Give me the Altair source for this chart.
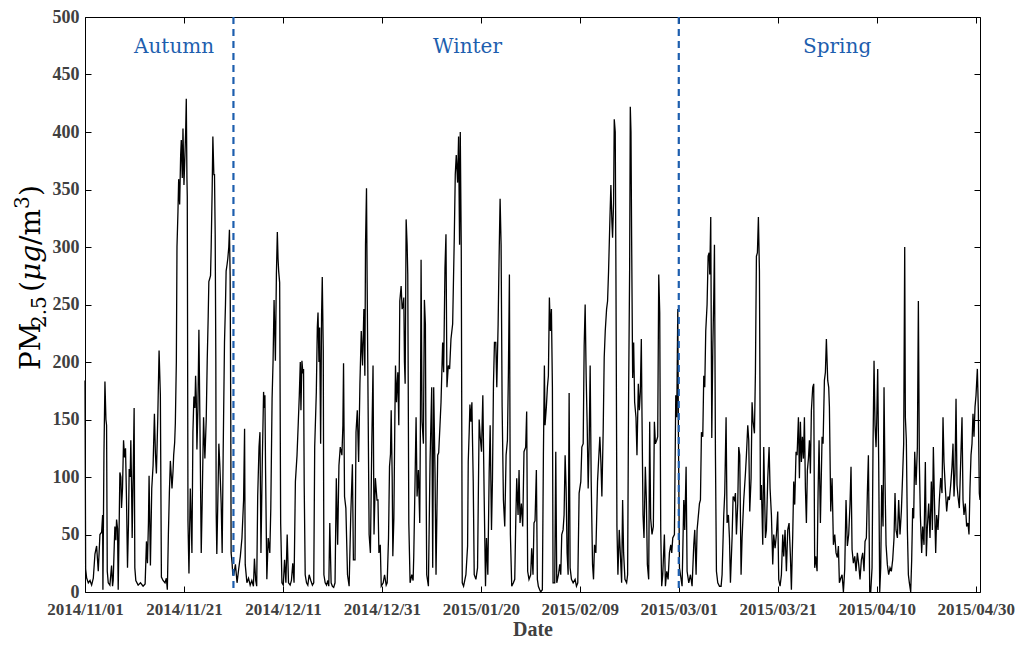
import altair as alt
import pandas as pd

# ---------------- data ----------------
# day offsets from 2014-11-01 00:00 and PM2.5 values (ug/m3)
autumn_day = [0.0, 0.13, 0.34, 0.67, 1.01, 1.34, 1.68, 2.01, 2.35, 2.68, 3.02, 3.36, 3.56, 3.62, 3.83, 4.03, 4.23, 4.36, 4.50, 4.70,
              5.03, 5.37, 5.57, 5.70, 5.91, 6.04, 6.24, 6.38, 6.58, 6.71, 6.91, 7.05, 7.25, 7.38, 7.58, 7.79, 7.99, 8.19, 8.39, 8.59,
              8.79, 8.93, 9.13, 9.26, 9.40, 9.53, 9.73, 9.93, 10.07, 10.27, 10.74, 11.21, 11.74, 12.15, 12.42, 12.62, 12.82, 12.95, 13.22, 13.49,
              13.76, 14.03, 14.23, 14.43, 14.70, 14.97, 15.23, 15.44, 15.77, 16.17, 16.44, 16.64, 16.85, 17.05, 17.25, 17.45, 17.58, 17.79, 17.92, 18.12,
              18.26, 18.46, 18.59, 18.79, 18.93, 19.13, 19.33, 19.46, 19.66, 19.80, 20.0, 20.2, 20.34, 20.47, 20.60, 20.67, 20.81, 21.01, 21.28, 21.48,
              21.61, 21.81, 22.01, 22.21, 22.35, 22.48, 22.62, 22.82, 23.02, 23.22, 23.49, 23.69, 23.96, 24.23, 24.50, 24.70, 24.90, 25.03, 25.17, 25.37,
              25.50, 25.70, 25.84, 26.04, 26.17, 26.31, 26.44, 26.51, 26.64, 26.85, 27.05, 27.25, 27.52, 27.72, 27.92, 28.19, 28.39, 28.52, 28.72, 28.86,
              29.06, 29.19, 29.33, 29.46, 29.53, 29.73, 29.87]
autumn_pm = [184, 20, 12, 8, 10, 6, 12, 33, 40, 18, 50, 52, 67, 2, 120, 183, 150, 145, 18, 8,
             6, 23, 5, 10, 40, 57, 45, 63, 55, 2, 60, 104, 100, 73, 90, 132, 117, 125, 80, 21,
             60, 107, 100, 132, 95, 47, 100, 160, 21, 10, 6, 8, 5, 7, 44, 25, 60, 101, 23, 90,
             110, 155, 120, 103, 150, 210, 171, 13, 10, 8, 12, 2, 50, 86, 114, 100, 90, 105, 119, 130,
             147, 200, 300, 331, 359, 337, 380, 393, 360, 403, 354, 380, 400, 429, 360, 344, 62, 16, 90, 60,
             34, 139, 170, 160, 188, 170, 124, 160, 228, 150, 34, 80, 152, 116, 150, 201, 240, 270, 272, 275,
             300, 350, 396, 363, 363, 311, 200, 70, 33, 80, 129, 110, 77, 34, 120, 217, 250, 279, 285, 290,
             300, 315, 275, 150, 34, 25, 15]

winter_day = [30.07, 30.40, 30.73, 31.06, 31.39, 31.72, 32.05, 32.25, 32.38, 32.72, 33.05, 33.38, 33.71, 34.04, 34.24, 34.50, 34.70, 34.90, 35.17, 35.36,
              35.56, 35.83, 36.09, 36.23, 36.36, 36.49, 36.75, 37.02, 37.35, 37.55, 37.81, 38.01, 38.21, 38.48, 38.68, 38.87, 39.01, 39.14, 39.34, 39.54,
              39.80, 40.07, 40.33, 40.60, 40.86, 41.13, 41.46, 41.72, 41.99, 42.25, 42.52, 42.85, 43.11, 43.31, 43.51, 43.64, 43.84, 44.04, 44.17, 44.30,
              44.50, 44.77, 45.03, 45.30, 45.63, 45.96, 46.23, 46.42, 46.75, 46.95, 47.09, 47.28, 47.42, 47.62, 47.81, 47.95, 48.15, 48.28, 48.54, 48.81,
              49.07, 49.27, 49.47, 49.74, 50.0, 50.26, 50.53, 50.79, 51.06, 51.32, 51.59, 51.92, 52.12, 52.25, 52.45, 52.72, 53.05, 53.38, 53.71, 54.04,
              54.24, 54.57, 54.77, 55.03, 55.30, 55.56, 55.83, 56.09, 56.36, 56.56, 56.69, 56.89, 57.02, 57.22, 57.42, 57.68, 57.95, 58.21, 58.41, 58.68,
              59.01, 59.21, 59.40, 59.67, 59.87,
              60.27, 60.54, 60.87, 61.07, 61.34, 61.54, 61.74, 61.88, 62.08, 62.21, 62.42, 62.62, 62.75, 62.95, 63.09, 63.22, 63.42, 63.62, 63.89, 64.09,
              64.30, 64.43, 64.56, 64.70, 64.90, 65.10, 65.23, 65.44, 65.70, 66.04, 66.31, 66.44, 66.71, 66.91, 67.11, 67.38, 67.65, 67.79, 67.92, 68.12,
              68.39, 68.59, 68.79, 68.93, 69.06, 69.40, 69.73, 70.07, 70.27, 70.47, 70.74, 70.94, 71.28, 71.48, 71.74, 71.95, 72.28, 72.48, 72.75, 72.95,
              73.15, 73.42, 73.69, 73.96, 74.30, 74.63, 74.83, 75.03, 75.30, 75.50, 75.70, 75.84, 76.04, 76.24, 76.51, 76.98, 77.32, 77.45, 77.65, 77.79,
              77.99, 78.19, 78.32, 78.46, 78.66, 79.0, 79.33, 79.66, 79.87, 80.13, 80.40, 80.67, 80.94, 81.14, 81.41, 81.68, 81.88, 82.15, 82.35, 82.55,
              82.75, 83.02, 83.22, 83.49, 83.69, 83.89, 84.09, 84.30, 84.56, 84.83, 85.10, 85.37, 85.57, 85.77, 85.97, 86.24, 86.58, 86.85, 87.05, 87.25,
              87.52, 87.72, 87.92, 88.19, 88.46, 88.72, 89.06, 89.26, 89.46, 89.73,
              90.07, 90.27, 90.54, 90.74, 90.95, 91.22, 91.42, 91.62, 91.89, 92.09, 92.43, 92.64, 92.84, 92.97, 93.24, 93.45, 93.65, 93.85, 94.05, 94.26,
              94.46, 94.59, 94.93, 95.14, 95.34, 95.68, 95.95, 96.15, 96.35, 96.62, 96.82, 97.03, 97.23, 97.43, 97.64, 97.84, 98.04, 98.31, 98.65, 99.05,
              99.32, 99.59, 99.86, 100.2, 100.41, 100.68, 100.88, 101.08, 101.28, 101.49, 101.69, 101.89, 102.09, 102.30, 102.57, 102.77, 102.97, 103.24, 103.58, 103.78,
              104.05, 104.26, 104.46, 104.73, 104.93, 105.14, 105.41, 105.61, 105.81, 106.08, 106.28, 106.49, 106.62, 106.82, 106.96, 107.16, 107.30, 107.50, 107.70, 107.97,
              108.18, 108.45, 108.65, 108.85, 109.12, 109.46, 109.66, 109.86, 110.07, 110.20, 110.34, 110.47, 110.68, 110.88, 111.08, 111.35, 111.55, 111.82, 112.03, 112.23,
              112.43, 112.57, 112.77, 112.97, 113.24, 113.45, 113.65, 113.92, 114.12, 114.32, 114.59, 114.86, 115.07, 115.27, 115.54, 115.74, 115.95, 116.15, 116.35, 116.55,
              116.76, 117.09, 117.30, 117.57, 117.84, 118.11, 118.38, 118.58, 118.78, 119.12, 119.39, 119.59, 119.80, 119.93]
winter_pm = [15, 24, 8, 20, 31, 47, 80, 142, 24, 8, 12, 6, 10, 5, 29, 10, 5, 83, 126, 139,
             34, 113, 174, 160, 171, 106, 11, 47, 34, 73, 168, 201, 254, 201, 276, 313, 290, 279, 269, 60,
             8, 6, 28, 8, 50, 8, 6, 10, 25, 8, 96, 119, 148, 171, 200, 158, 201, 190, 194, 93,
             15, 8, 6, 15, 10, 6, 8, 126, 174, 230, 243, 200, 230, 129, 240, 274, 210, 15, 8, 6,
             10, 5, 60, 8, 5, 4, 8, 99, 41, 110, 126, 119, 145, 199, 83, 73, 15, 5, 67, 111,
             28, 28, 139, 158, 113, 181, 227, 197, 246, 188, 302, 351, 269, 158, 50, 34, 126, 197, 50, 99,
             80, 80, 34, 41, 5,
             8, 15, 6, 8, 47, 109, 120, 158, 100, 31, 64, 150, 197, 165, 180, 191, 145, 253, 266, 246,
             250, 256, 200, 181, 324, 302, 276, 60, 8, 15, 10, 31, 99, 152, 83, 106, 60, 150, 289, 148,
             129, 254, 233, 100, 15, 5, 113, 178, 21, 178, 103, 15, 119, 121, 145, 165, 217, 191, 282, 311,
             178, 197, 194, 220, 233, 308, 363, 380, 356, 396, 302, 400, 299, 8, 5, 15, 40, 113, 140, 163,
             148, 165, 130, 96, 15, 11, 21, 150, 135, 122, 171, 83, 5, 47, 15, 103, 145, 54, 99, 181,
             217, 217, 178, 233, 292, 342, 302, 161, 80, 57, 119, 132, 191, 276, 50, 5, 8, 11, 60, 99,
             67, 106, 60, 77, 57, 122, 126, 157, 18, 11,
             15, 38, 15, 60, 62, 106, 11, 5, 2, 0, 2, 119, 197, 145, 161, 178, 188, 256, 227, 246,
             178, 8, 8, 122, 8, 15, 24, 15, 50, 54, 67, 119, 90, 34, 15, 173, 21, 11, 8, 11,
             5, 8, 86, 96, 126, 129, 214, 250, 188, 145, 90, 129, 197, 96, 24, 11, 41, 34, 96, 113,
             135, 113, 83, 142, 204, 227, 246, 253, 279, 324, 354, 321, 308, 338, 411, 400, 276, 57, 15, 54,
             34, 8, 80, 34, 11, 8, 15, 171, 282, 422, 400, 308, 186, 217, 165, 152, 119, 181, 158, 174,
             220, 152, 67, 47, 109, 80, 24, 11, 148, 64, 50, 57, 148, 129, 132, 135, 276, 243, 54, 5,
             15, 50, 5, 18, 11, 34, 41, 34, 47, 50, 171, 152, 246, 135]

spring_day = [120.14, 120.34, 120.67, 121.01, 121.21, 121.48, 121.68, 122.02, 122.36, 122.69, 123.03, 123.23, 123.50, 123.70, 123.91, 124.18, 124.38, 124.58, 124.85, 125.05,
              125.25, 125.45, 125.72, 125.93, 126.13, 126.26, 126.46, 126.67, 126.87, 127.07, 127.21, 127.41, 127.61, 127.88, 128.22, 128.55, 128.75, 129.09, 129.29, 129.56,
              129.76, 130.03, 130.24, 130.44, 130.77, 130.98, 131.25, 131.45, 131.65, 131.92, 132.12, 132.32, 132.59, 132.79, 133.13, 133.47, 133.67, 133.94, 134.14, 134.34,
              134.61, 134.81, 135.02, 135.29, 135.49, 135.69, 135.89, 136.09, 136.30, 136.50, 136.70, 136.97, 137.17, 137.51, 137.71, 137.98, 138.25, 138.45, 138.72, 138.99,
              139.19, 139.46, 139.73, 140.0, 140.20, 140.47, 140.74, 141.01, 141.21, 141.48, 141.75, 142.02, 142.29, 142.56, 142.76, 143.03, 143.23, 143.43, 143.70, 143.91,
              144.18, 144.38, 144.58, 144.78, 144.98, 145.19, 145.39, 145.59, 145.79, 145.99, 146.20, 146.40, 146.60, 146.80, 147.07, 147.27, 147.47, 147.68, 147.95, 148.15,
              148.35, 148.62, 148.96, 149.16, 149.43, 149.63, 149.83, 150.10, 150.30,
              150.44, 150.71, 150.98, 151.25, 151.52, 151.78, 152.05, 152.26, 152.46, 152.73, 153.0, 153.27, 153.54, 153.80, 154.07, 154.34, 154.61, 154.81, 155.02, 155.29,
              155.56, 155.82, 156.09, 156.36, 156.63, 156.90, 157.17, 157.44, 157.64, 157.91, 158.11, 158.32, 158.59, 158.79, 159.06, 159.26, 159.46, 159.66, 159.87, 160.0,
              160.20, 160.40, 160.61, 160.81, 161.01, 161.28, 161.48, 161.68, 161.89, 162.15, 162.42, 162.69, 162.96, 163.23, 163.50, 163.70, 163.90, 164.18, 164.44, 164.71,
              164.98, 165.25, 165.45, 165.66, 165.79, 165.99, 166.20, 166.40, 166.60, 166.87, 167.07, 167.27, 167.47, 167.68, 167.95, 168.22, 168.42, 168.62, 168.82, 169.09,
              169.29, 169.56, 169.83, 170.03, 170.24, 170.51, 170.77, 171.04, 171.25, 171.45, 171.65, 171.92, 172.12, 172.39, 172.66, 172.93, 173.20, 173.40, 173.60, 173.87,
              174.14, 174.41, 174.68, 174.95, 175.22, 175.42, 175.62, 175.82, 176.03, 176.23, 176.43, 176.70, 176.97, 177.24, 177.44, 177.64, 177.91, 178.18, 178.45, 178.65,
              178.85, 179.06, 179.26, 179.46, 179.66, 179.87, 180.07, 180.34, 180.54, 180.74, 180.88]
spring_pm = [21, 15, 5, 80, 54, 109, 18, 8, 15, 5, 41, 54, 15, 54, 64, 77, 80, 139, 135, 188,
             178, 227, 250, 292, 295, 276, 326, 134, 210, 256, 302, 119, 18, 8, 5, 5, 15, 67, 86, 152,
             60, 67, 47, 8, 47, 83, 80, 86, 50, 77, 126, 119, 15, 47, 80, 103, 119, 145, 132, 70,
             99, 165, 148, 138, 191, 292, 295, 326, 279, 80, 93, 41, 126, 47, 54, 99, 126, 90, 67, 24,
             50, 38, 50, 70, 11, 5, 15, 50, 31, 54, 18, 54, 60, 31, 2, 50, 96, 76, 122, 119,
             152, 99, 148, 113, 135, 116, 152, 90, 60, 106, 116, 132, 103, 158, 178, 181, 21, 31, 18, 86,
             132, 60, 135, 129, 184, 191, 220, 184, 178,
             161, 70, 99, 41, 50, 34, 30, 40, 8, 12, 15, 0, 20, 80, 40, 50, 77, 109, 37, 25,
             31, 18, 34, 24, 11, 28, 34, 18, 44, 47, 86, 119, 0, 0, 21, 129, 201, 145, 126, 148,
             194, 113, 0, 21, 93, 57, 178, 96, 41, 24, 15, 21, 18, 28, 47, 86, 54, 47, 80, 50,
             70, 103, 129, 300, 152, 132, 54, 15, 8, 0, 28, 73, 64, 122, 93, 126, 253, 113, 67, 34,
             57, 41, 113, 31, 57, 77, 47, 96, 54, 126, 83, 34, 67, 54, 80, 99, 86, 152, 113, 90,
             70, 83, 80, 93, 109, 129, 83, 103, 168, 93, 83, 73, 113, 152, 80, 67, 77, 57, 60, 50,
             90, 119, 129, 155, 135, 161, 171, 194, 158, 86, 80]

season_names = ["Autumn", "Winter", "Spring"]
season_label_day = [18.0, 77.3, 152.0]
season_label_pm = [474, 474, 474]
boundary_dates = ["2014-12-01", "2015-03-01"]
x_tick_dates = [(2014, 11, 1), (2014, 11, 21), (2014, 12, 11), (2014, 12, 31), (2015, 1, 20),
                (2015, 2, 9), (2015, 3, 1), (2015, 3, 21), (2015, 4, 10), (2015, 4, 30)]
y_tick_values = [0, 50, 100, 150, 200, 250, 300, 350, 400, 450, 500]

# ---------------- build tables ----------------
START = pd.Timestamp("2014-11-01")


def to_frame(days, vals):
    t = (START + pd.to_timedelta(days, unit="D")).round("min")
    return pd.DataFrame({"time": t, "pm": vals})


df = pd.concat([to_frame(autumn_day, autumn_pm),
                to_frame(winter_day, winter_pm),
                to_frame(spring_day, spring_pm)], ignore_index=True)

season_df = to_frame(season_label_day, season_label_pm)
season_df["name"] = season_names
boundary_df = pd.DataFrame({"time": pd.to_datetime(boundary_dates)})
corner_df = pd.DataFrame({"time": pd.to_datetime(["2014-11-01", "2015-04-30"]), "pm": [0, 500]})

# ---------------- styling ----------------
W, H = 895, 575
BLUE = "#1d5eae"
LABEL_FONT = "Liberation Serif"
GREY = "#404040"

tick_vals = [alt.DateTime(year=y, month=m, date=d) for (y, m, d) in x_tick_dates]
x_scale = alt.Scale(domain=[alt.DateTime(year=2014, month=11, date=1),
                            alt.DateTime(year=2015, month=4, date=30, hours=21)], nice=False)
y_scale = alt.Scale(domain=[0, 500], nice=False)

line = alt.Chart(df).mark_line(color="black", strokeWidth=1.3).encode(
    x=alt.X("time:T", scale=x_scale,
            axis=alt.Axis(values=tick_vals, format="%Y/%m/%d", title="Date", ticks=False, tickSize=0,
                          domain=False, grid=False, labelPadding=9, labelFlush=False, labelOverlap=False,
                          labelFont=LABEL_FONT, labelFontSize=17, labelFontWeight="bold", labelColor=GREY,
                          titleFont=LABEL_FONT, titleFontSize=20, titleFontWeight="bold", titleColor=GREY,
                          titlePadding=2)),
    y=alt.Y("pm:Q", scale=y_scale,
            axis=alt.Axis(values=y_tick_values, title=None, ticks=False, tickSize=0, domain=False, grid=False,
                          labelPadding=6, labelFont=LABEL_FONT, labelFontSize=18, labelFontWeight="bold",
                          labelColor=GREY, labelFlush=False)),
)

rules = alt.Chart(boundary_df).mark_rule(color=BLUE, strokeDash=[7, 5], strokeWidth=2.2).encode(
    x=alt.X("time:T", scale=x_scale, axis=None)
)

seasons = alt.Chart(season_df).mark_text(font="DejaVu Serif", fontSize=20, color=BLUE).encode(
    x=alt.X("time:T", scale=x_scale, axis=None),
    y=alt.Y("pm:Q", scale=y_scale, axis=None),
    text="name:N",
)


def tick_axis(orient, offset, values):
    return alt.Axis(orient=orient, offset=offset, values=values, labels=False, ticks=True, tickSize=6,
                    tickColor="black", tickWidth=1, domain=False, grid=False, title=None)


ticks_a = alt.Chart(corner_df).mark_point(opacity=0).encode(
    x=alt.X("time:T", scale=x_scale, axis=tick_axis("top", -H, tick_vals)),
    y=alt.Y("pm:Q", scale=y_scale, axis=tick_axis("right", -W, y_tick_values)),
)
ticks_b = alt.Chart(corner_df).mark_point(opacity=0).encode(
    x=alt.X("time:T", scale=x_scale, axis=tick_axis("bottom", -H, tick_vals)),
    y=alt.Y("pm:Q", scale=y_scale, axis=tick_axis("left", -W, y_tick_values)),
)


def title_piece(txt, x, y, size, italic=False):
    return alt.Chart(pd.DataFrame({"t": [txt]})).mark_text(
        angle=270, align="left", baseline="alphabetic", font="DejaVu Serif", fontSize=size,
        fontStyle="italic" if italic else "normal", color="black"
    ).encode(x=alt.value(x), y=alt.value(y), text="t:N")


BX = -45
title_layers = [
    title_piece("PM", BX, 353, 28),
    title_piece("2.5", BX + 6, 311, 20),
    title_piece("(", BX, 275, 28),
    title_piece("\u03bcg", BX, 264, 28, italic=True),
    title_piece("/m", BX, 228, 28),
    title_piece("3", BX - 11, 192, 20),
    title_piece(")", BX, 179, 28),
]

chart = alt.layer(line, rules, seasons, ticks_a, ticks_b, *title_layers).resolve_axis(
    x="independent", y="independent"
).properties(
    width=W, height=H, background="white",
    padding={"left": 5, "top": 0, "right": 0, "bottom": 0},
).configure_view(stroke="black", strokeWidth=1)

chart.save("out.html", embed_options={"renderer": "svg", "actions": False})
